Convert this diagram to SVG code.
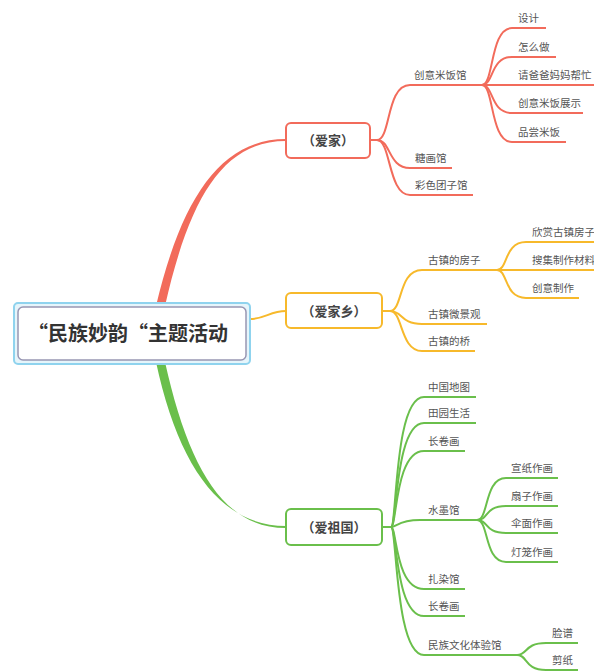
<svg xmlns="http://www.w3.org/2000/svg" width="594" height="672" viewBox="0 0 594 672">
<style>
.t{font-family:"Noto Sans CJK SC","Noto Sans",sans-serif;font-size:10.5px;fill:#555}
.b{font-family:"Noto Sans CJK SC","Noto Sans",sans-serif;font-size:13px;font-weight:bold;fill:#444;text-anchor:middle}
.r{stroke:#f26b5b;fill:none;stroke-width:2}
.y{stroke:#f7b92b;fill:none;stroke-width:2}
.g{stroke:#6abf4b;fill:none;stroke-width:2}
</style>
<rect width="594" height="672" fill="#fff"/>
<g id="connectors">
  <path d="M156,306 C181,200 220,139 286,139 L286,141 C222,141 189,200 165,306 Z" fill="#f26b5b"/>
  <path d="M156,362 C178,465 220,526 286,526 L286,528 C222,528 188,465 165,362 Z" fill="#6abf4b"/>
  <path d="M250,319 C265,319 270,311 286,311" class="y" stroke-width="1.8"/>
  <path class="r" d="M370,140 L377,140 C391,140 386,85 410,85 L594,85"/>
  <path class="r" d="M377,140 C391,140 388,168 410,168 L452,168"/>
  <path class="r" d="M377,140 C391,140 388,195 410,195 L473,195"/>
  <path class="r" d="M482,85 C494,85 490,28 512,28 L546,28"/>
  <path class="r" d="M482,85 C494,85 490,57 512,57 L556,57"/>
  <path class="r" d="M482,85 C494,85 490,113 512,113 L583,113"/>
  <path class="r" d="M482,85 C494,85 490,142 512,142 L566,142"/>
  <path class="y" d="M382,311 L390,311 C403,311 398,270 422,270 L594,270"/>
  <path class="y" d="M390,311 C403,311 400,324 422,324 L487,324"/>
  <path class="y" d="M390,311 C403,311 400,351 422,351 L475,351"/>
  <path class="y" d="M497,270 C508,270 504,242 526,242 L594,242"/>
  <path class="y" d="M497,270 C508,270 504,298 526,298 L579,298"/>
  <path class="g" d="M382,527 L391,527 C397,527 394,397 424,397 L476,397"/>
  <path class="g" d="M391,527 C397,527 395,423 424,423 L476,423"/>
  <path class="g" d="M391,527 C397,527 395,451 424,451 L465,451"/>
  <path class="g" d="M391,527 C397,527 398,520 420,520 L477,520"/>
  <path class="g" d="M391,527 C397,527 395,589 424,589 L465,589"/>
  <path class="g" d="M391,527 C397,527 395,616 424,616 L465,616"/>
  <path class="g" d="M391,527 C397,527 395,655 424,655 L517,655"/>
  <path class="g" d="M477,520 C489,520 484,478 506,478 L558,478"/>
  <path class="g" d="M477,520 C489,520 484,506 506,506 L558,506"/>
  <path class="g" d="M477,520 C489,520 484,533 506,533 L558,533"/>
  <path class="g" d="M477,520 C489,520 484,562 506,562 L558,562"/>
  <path class="g" d="M517,655 C528,655 524,643 546,643 L578,643"/>
  <path class="g" d="M517,655 C528,655 524,670 546,670 L578,670"/>
</g>
<g id="root">
  <rect x="14" y="303" width="236" height="61" rx="4" fill="#e6f5fb" stroke="#8fd3ee" stroke-width="2"/>
  <rect x="18" y="307" width="228" height="53" rx="5" fill="#fff" stroke="#9896b3" stroke-width="1.5"/>
  <text x="128" y="341" font-family="Noto Sans CJK SC,sans-serif" font-size="20" font-weight="bold" fill="#333" text-anchor="middle">“民族妙韵“主题活动</text>
</g>
<g id="aijia">
  <rect x="286" y="123" width="84" height="35" rx="5" fill="#fff" stroke="#f26b5b" stroke-width="2"/>
  <text class="b" x="328" y="145">（爱家）</text>
</g>
<g id="aijiaxiang">
  <rect x="286" y="293" width="96" height="35" rx="5" fill="#fff" stroke="#f7b92b" stroke-width="2"/>
  <text class="b" x="334" y="316">（爱家乡）</text>
</g>
<g id="aizuguo">
  <rect x="286" y="509" width="96" height="36" rx="5" fill="#fff" stroke="#6abf4b" stroke-width="2"/>
  <text class="b" x="334" y="532">（爱祖国）</text>
</g>
<g id="red-leaves">
  <text class="t" x="414" y="79">创意米饭馆</text>
  <text class="t" x="415" y="162">糖画馆</text>
  <text class="t" x="415" y="189">彩色团子馆</text>
  <text class="t" x="518" y="22">设计</text>
  <text class="t" x="518" y="51">怎么做</text>
  <text class="t" x="518" y="79">请爸爸妈妈帮忙</text>
  <text class="t" x="518" y="107">创意米饭展示</text>
  <text class="t" x="518" y="136">品尝米饭</text>
</g>
<g id="yellow-leaves">
  <text class="t" x="428" y="264">古镇的房子</text>
  <text class="t" x="428" y="318">古镇微景观</text>
  <text class="t" x="428" y="345">古镇的桥</text>
  <text class="t" x="532" y="236">欣赏古镇房子</text>
  <text class="t" x="532" y="264">搜集制作材料</text>
  <text class="t" x="532" y="292">创意制作</text>
</g>
<g id="green-leaves">
  <text class="t" x="428" y="391">中国地图</text>
  <text class="t" x="428" y="417">田园生活</text>
  <text class="t" x="428" y="445">长卷画</text>
  <text class="t" x="428" y="514">水墨馆</text>
  <text class="t" x="428" y="583">扎染馆</text>
  <text class="t" x="428" y="610">长卷画</text>
  <text class="t" x="428" y="649">民族文化体验馆</text>
  <text class="t" x="511" y="472">宣纸作画</text>
  <text class="t" x="511" y="500">扇子作画</text>
  <text class="t" x="511" y="527">伞面作画</text>
  <text class="t" x="511" y="556">灯笼作画</text>
  <text class="t" x="552" y="637">脸谱</text>
  <text class="t" x="552" y="664">剪纸</text>
</g>
</svg>
